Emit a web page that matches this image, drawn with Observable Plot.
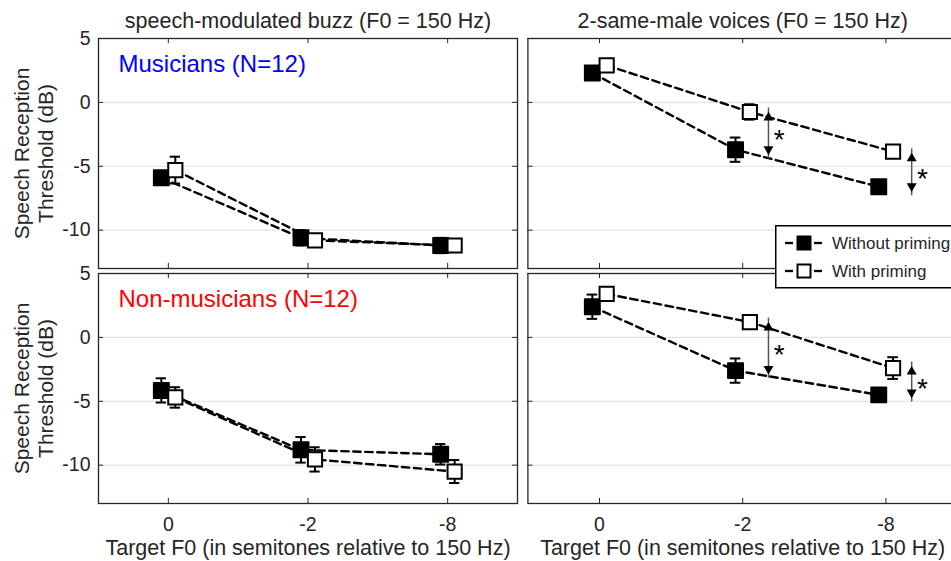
<!DOCTYPE html>
<html><head><meta charset="utf-8">
<script src="https://cdn.jsdelivr.net/npm/d3@7"></script>
<script src="https://cdn.jsdelivr.net/npm/@observablehq/plot@0.6"></script>
<style>
html,body{margin:0;padding:0;background:#fff;overflow:hidden}
#wrap{position:relative;width:951px;height:561px;overflow:hidden;font-family:"Liberation Sans",Arial,sans-serif}
#left{position:absolute;left:0;top:0;width:522px}
#right{position:absolute;left:522px;top:0;width:440px}
#wrap svg{max-width:none !important}
#legend{position:absolute;left:775px;top:225px}
</style></head><body>
<div id="wrap"><div id="left"></div><div id="right"></div><div id="legend"></div></div>
<script>
// ---- data ----
const stimuli = ["speech-modulated buzz (F0 = 150 Hz)", "2-same-male voices (F0 = 150 Hz)"];
const groups = ["Musicians", "Non-musicians"];
const groupLabels = ["Musicians (N=12)", "Non-musicians (N=12)"];
const groupColors = ["#0000ff", "#ff0000"];
const conditions = ["Without priming", "With priming"];
const f0Ticks = ["0", "-2", "-8"];
const yTickValues = [5, 0, -5, -10];
const yGridValues = [0, -5, -10];
const xLabel = "Target F0 (in semitones relative to 150 Hz)";
const yLabel = "Speech Reception\nThreshold (dB)";

// mean SRT (dB) at target F0 = 0, -2, -8 semitones
const musBuzzWithout  = [-5.9, -10.6, -11.2];
const musBuzzWith     = [-5.3, -10.8, -11.2];
const musVoiceWithout = [2.3, -3.7, -6.6];
const musVoiceWith    = [2.9, -0.75, -3.85];
const nonBuzzWithout  = [-4.15, -8.8, -9.15];
const nonBuzzWith     = [-4.7, -9.55, -10.5];
const nonVoiceWithout = [2.4, -2.6, -4.5];
const nonVoiceWith    = [3.4, 1.2, -2.4];
// error bar half-lengths (dB)
const musBuzzWithoutErr  = [0.5, 0.6, 0.6];
const musBuzzWithErr     = [1.05, 0.5, 0.4];
const musVoiceWithoutErr = [0.5, 0.95, 0.4];
const musVoiceWithErr    = [0.4, 0.6, 0.4];
const nonBuzzWithoutErr  = [0.95, 1.0, 0.8];
const nonBuzzWithErr     = [0.8, 0.95, 0.9];
const nonVoiceWithoutErr = [0.95, 0.95, 0.4];
const nonVoiceWithErr    = [0.4, 0.5, 0.85];

// significance arrows (voices panels), at F0 categories 2 and 3
const sigCats = [2, 3];
const musSigUpper = [-0.75, -3.95];
const musSigLower = [-4.1, -7.0];
const nonSigUpper = [1.2, -2.25];
const nonSigLower = [-2.9, -4.75];
const sigMark = "*";

// ---- tables ----
const seriesList = [
  {g: 0, s: 0, c: 0, y: musBuzzWithout, e: musBuzzWithoutErr},
  {g: 0, s: 0, c: 1, y: musBuzzWith, e: musBuzzWithErr},
  {g: 0, s: 1, c: 0, y: musVoiceWithout, e: musVoiceWithoutErr},
  {g: 0, s: 1, c: 1, y: musVoiceWith, e: musVoiceWithErr},
  {g: 1, s: 0, c: 0, y: nonBuzzWithout, e: nonBuzzWithoutErr},
  {g: 1, s: 0, c: 1, y: nonBuzzWith, e: nonBuzzWithErr},
  {g: 1, s: 1, c: 0, y: nonVoiceWithout, e: nonVoiceWithoutErr},
  {g: 1, s: 1, c: 1, y: nonVoiceWith, e: nonVoiceWithErr}
];
const rows = seriesList.flatMap(s => s.y.map((v, i) => ({
  group: groups[s.g], stim: s.s, cond: s.c, cat: i + 1, y: v, err: s.e[i]
})));
const arrows = [
  ...sigCats.map((c, i) => ({group: groups[0], cat: c, upper: musSigUpper[i], lower: musSigLower[i]})),
  ...sigCats.map((c, i) => ({group: groups[1], cat: c, upper: nonSigUpper[i], lower: nonSigLower[i]}))
];

// ---- drawing ----
const ink = "#262626";
const xDomain = [0.5, 3.5];
const yDomain = [-13, 5];
const dodge = [-0.05, 0.05];
const xpos = d => d.cat + dodge[d.cond];
const capHalf = 0.037;
const ax = d => d.cat + 0.18;

function panel(si, {width, marginLeft, marginRight, showY}) {
  const data = rows.filter(d => d.stim === si);
  const d0 = data.filter(d => d.cond === 0);
  const d1 = data.filter(d => d.cond === 1);
  const tx = 0.036, ty = 0.4;
  const marks = [
    Plot.gridY(yGridValues, {stroke: "#dedede", strokeOpacity: 1, strokeWidth: 1}),
    // inward ticks
    Plot.ruleY(yTickValues, {x1: xDomain[0], x2: xDomain[0] + tx, stroke: ink}),
    Plot.ruleY(yTickValues, {x1: xDomain[1] - tx, x2: xDomain[1], stroke: ink}),
    Plot.ruleX([1, 2, 3], {y1: yDomain[0], y2: yDomain[0] + ty, stroke: ink}),
    Plot.ruleX([1, 2, 3], {y1: yDomain[1] - ty, y2: yDomain[1], stroke: ink}),
    // lines
    Plot.line(data, {x: xpos, y: "y", z: "cond", fy: "group", stroke: "#000", strokeWidth: 2.4, strokeDasharray: "7.5,4.5"}),
    // error bars
    Plot.ruleX(data, {x: xpos, y1: d => d.y - d.err, y2: d => d.y + d.err, fy: "group", stroke: "#000", strokeWidth: 2}),
    Plot.ruleY(data, {y: d => d.y + d.err, x1: d => xpos(d) - capHalf, x2: d => xpos(d) + capHalf, fy: "group", stroke: "#000", strokeWidth: 2}),
    Plot.ruleY(data, {y: d => d.y - d.err, x1: d => xpos(d) - capHalf, x2: d => xpos(d) + capHalf, fy: "group", stroke: "#000", strokeWidth: 2}),
    // markers
    Plot.dot(d0, {x: xpos, y: "y", fy: "group", symbol: "square", r: 8.7, fill: "#000", stroke: "#000", strokeWidth: 1.5, strokeLinejoin: "round"}),
    Plot.dot(d1, {x: xpos, y: "y", fy: "group", symbol: "square", r: 8, fill: "#fff", stroke: "#000", strokeWidth: 2}),
    Plot.frame({stroke: ink, strokeWidth: 1.3}),
    // column title
    Plot.text([groups[0]], {fy: d => d, text: () => stimuli[si], frameAnchor: "top", dy: -17, fontSize: 21.5, fill: ink, lineAnchor: "middle"}),
    // x axis
    Plot.axisX([1, 2, 3], {tickSize: 0, tickPadding: 14, tickFormat: v => f0Ticks[v - 1], fontSize: 19.5, fill: ink, label: null}),
    Plot.text([groups[1]], {fy: d => d, text: () => xLabel, frameAnchor: "bottom", dy: 45, fontSize: 21.5, fill: ink, lineAnchor: "middle"})
  ];
  if (si === 1) {
    marks.push(
      Plot.ruleX(arrows, {x: ax, y1: "lower", y2: "upper", fy: "group", stroke: "#555", strokeWidth: 1.5, insetTop: 4, insetBottom: 4}),
      Plot.dot(arrows, {x: ax, y: "upper", fy: "group", symbol: "triangle", r: 3.7, fill: "#000", stroke: "none", dy: 5.6}),
      Plot.dot(arrows, {x: ax, y: "lower", fy: "group", symbol: "triangle", r: 3.7, fill: "#000", stroke: "none", rotate: 180, dy: -5.6}),
      Plot.text(arrows, {x: d => ax(d) + 0.075, y: d => (d.upper + d.lower) / 2, fy: "group", text: () => sigMark, fontSize: 28, fill: "#000", dy: 7, lineAnchor: "middle"})
    );
  }
  if (showY) {
    marks.push(
      Plot.axisY(yTickValues, {tickSize: 0, tickPadding: 8, tickFormat: v => String(v), fontSize: 19.5, fill: ink, label: null}),
      Plot.text(groups, {fy: d => d, text: () => yLabel, frameAnchor: "left", rotate: -90, dx: -65, fontSize: 21, lineHeight: 1.15, fill: ink, textAnchor: "middle", lineAnchor: "middle"}),
      Plot.text(groups, {fy: d => d, text: (d, i) => groupLabels[i], fill: (d, i) => groupColors[i], frameAnchor: "top-left", dx: 20, dy: 25.5, fontSize: 24, textAnchor: "start", lineAnchor: "middle"})
    );
  }
  return Plot.plot({
    width, height: 561,
    marginLeft, marginRight, marginTop: 38, marginBottom: 58,
    style: {fontFamily: '"Liberation Sans", Arial, sans-serif', fontSize: "19.5px", color: ink, background: "transparent", maxWidth: "none"},
    x: {domain: xDomain, axis: null},
    y: {domain: yDomain, axis: null},
    color: {type: "identity"},
    fy: {domain: groups, axis: null, paddingInner: 0.0213, paddingOuter: 0},
    marks
  });
}

document.getElementById("left").appendChild(panel(0, {width: 522, marginLeft: 98, marginRight: 5, showY: true}));
document.getElementById("right").appendChild(panel(1, {width: 440, marginLeft: 5.4, marginRight: 5, showY: false}));

// ---- legend ----
const lg = d3.create("svg").attr("width", 176).attr("height", 64)
  .style("font-family", '"Liberation Sans", Arial, sans-serif');
lg.append("rect").attr("x", 0.75).attr("y", 0.75).attr("width", 200).attr("height", 62)
  .attr("fill", "#fff").attr("stroke", "#000").attr("stroke-width", 1.5);
conditions.forEach((c, i) => {
  const cy = 18 + i * 28;
  lg.append("line").attr("x1", 10).attr("x2", 18).attr("y1", cy).attr("y2", cy).attr("stroke", "#000").attr("stroke-width", 2.3);
  lg.append("line").attr("x1", 39).attr("x2", 47).attr("y1", cy).attr("y2", cy).attr("stroke", "#000").attr("stroke-width", 2.3);
  lg.append("rect").attr("x", 22.5).attr("y", cy - 6.5).attr("width", 13).attr("height", 13)
    .attr("fill", i === 0 ? "#000" : "#fff").attr("stroke", "#000").attr("stroke-width", 2);
  lg.append("text").attr("x", 57).attr("y", cy).attr("dy", "0.35em").attr("font-size", 17).attr("fill", ink).text(c);
});
document.getElementById("legend").appendChild(lg.node());
</script>
</body></html>
